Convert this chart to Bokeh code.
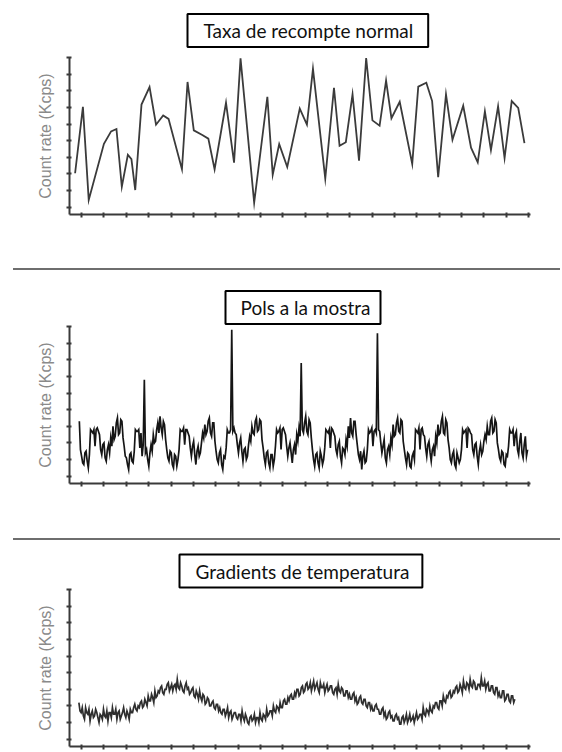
import numpy as np
from bokeh.plotting import figure
from bokeh.models import Range1d, FixedTicker, Div
from bokeh.layouts import column
from bokeh.embed import file_html
from bokeh.resources import INLINE

# ---------------- data ----------------
titles = ["Taxa de recompte normal", "Pols a la mostra", "Gradients de temperatura"]
y_label = "Count rate (Kcps)"
x_ticks = list(range(1, 22))
y_ticks = list(range(1, 11))

# Panel 1: normal count rate
x1 = [0.71, 1.06, 1.32, 2.00, 2.32, 2.56, 2.80, 3.07, 3.23, 3.40,
      3.68, 4.04, 4.33, 4.65, 4.89, 5.49, 5.74, 6.02, 6.40, 6.67,
      6.95, 7.46, 7.82, 8.11, 8.72, 9.31, 9.55, 9.84, 10.20, 10.76,
      11.08, 11.35, 11.90, 12.29, 12.54, 12.82, 13.12, 13.41, 13.73, 14.01,
      14.33, 14.62, 14.86, 15.23, 15.79, 16.06, 16.42, 16.68, 16.95, 17.30,
      17.59, 18.07, 18.42, 18.72, 19.04, 19.31, 19.63, 19.92, 20.24, 20.53,
      20.81]
y1 = [3.04, 7.03, 1.43, 4.81, 5.56, 5.70, 2.23, 4.15, 3.89, 2.03,
      7.17, 8.22, 5.96, 6.51, 6.31, 3.28, 8.53, 5.62, 5.34, 5.12,
      3.28, 7.28, 3.68, 9.95, 1.27, 7.64, 2.95, 4.79, 3.42, 6.93,
      5.97, 9.32, 2.72, 8.18, 4.69, 4.91, 7.78, 3.80, 9.97, 6.22,
      5.90, 8.61, 6.35, 7.34, 3.60, 8.25, 8.48, 7.38, 2.80, 7.78,
      5.06, 7.10, 4.58, 3.70, 6.76, 4.43, 7.06, 3.95, 7.38, 6.97,
      4.85]

# Panel 2: dust in the sample (periodic noise + four spikes)
y2 = [4.3, 2.6, 2.2, 1.8, 1.7, 2.4, 2.5, 1.9, 1.5, 2.3,
      3.8, 3.7, 3.6, 3.8, 2.8, 3.8, 3.9, 3.7, 3.5, 2.6,
      2.3, 2.9, 3.0, 2.1, 1.9, 2.6, 2.9, 2.4, 3.3, 2.8,
      4.0, 3.2, 3.4, 4.2, 4.5, 3.5, 3.6, 4.4, 4.3, 3.3,
      2.8, 2.2, 2.1, 1.7, 1.4, 2.3, 2.4, 1.9, 1.8, 2.5,
      3.8, 3.7, 3.7, 3.8, 2.7, 3.6, 2.2, 2.9, 6.8, 2.4,
      2.6, 2.0, 1.6, 2.4, 2.9, 2.5, 3.5, 3.0, 3.1, 3.8,
      4.2, 3.6, 4.6, 3.9, 3.5, 4.3, 4.1, 3.2, 2.6, 2.1,
      1.9, 2.5, 2.4, 1.7, 1.5, 2.3, 2.2, 1.6, 2.0, 2.6,
      3.8, 3.7, 3.7, 3.9, 2.9, 3.8, 3.8, 3.6, 3.4, 2.7,
      2.2, 2.8, 3.1, 2.3, 1.7, 2.5, 2.8, 2.2, 2.4, 3.0,
      3.6, 3.3, 4.1, 3.5, 3.7, 4.3, 4.5, 3.6, 3.4, 4.2,
      4.2, 3.1, 2.5, 2.0, 1.8, 2.4, 2.6, 1.7, 1.4, 2.2,
      2.1, 2.7, 3.8, 3.6, 3.6, 3.8, 9.8, 3.7, 3.9, 3.6,
      3.5, 2.9, 2.4, 3.0, 3.3, 2.5, 1.9, 2.6, 2.7, 2.0,
      2.2, 2.9, 3.4, 3.1, 4.0, 3.6, 3.5, 4.3, 4.5, 3.7,
      3.8, 4.4, 4.3, 3.2, 2.7, 2.1, 1.7, 2.4, 2.5, 1.8,
      1.5, 2.3, 2.3, 1.6, 2.0, 2.8, 3.8, 3.6, 3.7, 3.9,
      2.6, 3.8, 3.9, 3.7, 3.5, 2.8, 2.2, 2.7, 3.0, 2.4,
      1.8, 2.6, 2.9, 2.3, 3.5, 3.1, 3.9, 3.4, 7.8, 3.8,
      3.6, 4.2, 4.6, 3.7, 3.5, 4.4, 4.2, 3.3, 2.6, 2.0,
      1.6, 2.3, 2.4, 1.8, 1.5, 2.5, 2.2, 1.7, 2.0, 2.7,
      3.8, 3.7, 3.6, 3.8, 2.7, 3.9, 3.8, 3.6, 3.4, 2.6,
      2.3, 2.9, 3.1, 2.2, 1.8, 2.7, 2.6, 2.3, 3.2, 2.8,
      4.0, 3.3, 4.5, 3.6, 3.4, 4.3, 4.3, 3.5, 2.9, 2.3,
      2.0, 2.5, 1.4, 2.2, 2.5, 1.8, 1.9, 2.6, 3.8, 3.6,
      3.7, 3.9, 2.8, 3.7, 3.8, 3.6, 9.6, 3.8, 3.7, 3.0,
      2.4, 2.8, 3.2, 2.1, 1.8, 2.6, 2.8, 2.3, 3.3, 2.9,
      4.1, 3.4, 3.5, 4.2, 4.5, 3.7, 3.6, 4.4, 4.3, 3.1,
      2.6, 2.1, 1.7, 2.4, 2.3, 1.6, 1.5, 2.2, 2.4, 2.0,
      3.8, 3.7, 3.6, 3.9, 2.6, 3.8, 3.9, 3.5, 3.4, 2.7,
      2.2, 2.9, 3.1, 2.4, 1.9, 2.6, 2.8, 2.2, 3.4, 3.0,
      4.1, 3.5, 3.6, 4.3, 4.6, 3.6, 3.5, 4.4, 4.2, 3.2,
      2.7, 2.0, 1.8, 2.3, 2.5, 1.7, 1.5, 2.4, 2.1, 1.8,
      2.0, 2.6, 3.8, 3.6, 3.7, 3.8, 2.7, 3.9, 3.8, 3.6,
      3.5, 2.6, 2.3, 2.9, 3.0, 2.2, 1.7, 2.5, 2.9, 2.3,
      2.5, 3.1, 3.5, 3.2, 4.0, 3.5, 3.5, 4.3, 4.5, 3.6,
      3.7, 4.4, 4.2, 3.0, 2.6, 2.1, 1.9, 2.5, 2.4, 1.7,
      1.6, 2.3, 2.2, 2.8, 3.8, 3.6, 3.6, 3.8, 2.8, 3.5,
      3.7, 2.6, 2.3, 3.1, 3.6, 2.4, 2.1, 2.9, 3.4, 2.2,
      2.6]

# Panel 3: temperature gradients (slow oscillation + noise)
y3 = [3.2, 2.7, 2.6, 2.9, 2.4, 2.2, 2.9, 2.6, 2.5, 2.8,
      2.1, 2.5, 2.7, 2.3, 2.4, 2.8, 2.6, 2.3, 2.0, 2.5,
      2.4, 2.2, 2.8, 2.4, 2.3, 2.7, 2.1, 2.6, 2.6, 2.3,
      2.9, 2.5, 2.5, 2.8, 2.2, 2.6, 2.7, 2.2, 2.4, 2.6,
      2.9, 2.5, 2.3, 2.7, 2.5, 2.2, 2.8, 2.6, 2.6, 2.9,
      3.1, 2.8, 2.7, 3.0, 2.9, 3.2, 3.3, 2.9, 3.0, 3.4,
      3.2, 3.0, 3.6, 3.3, 3.3, 3.7, 3.5, 3.2, 3.9, 3.5,
      3.6, 3.9, 3.8, 4.1, 4.2, 3.8, 3.7, 4.0, 4.0, 4.3,
      4.4, 3.9, 4.1, 4.3, 3.9, 4.2, 4.3, 4.0, 4.6, 4.1,
      4.0, 4.4, 4.2, 3.9, 3.8, 4.2, 4.4, 4.0, 4.1, 3.7,
      3.8, 4.0, 4.1, 3.6, 3.5, 3.9, 3.7, 3.4, 3.9, 3.5,
      3.3, 3.7, 3.6, 3.1, 3.2, 3.5, 3.4, 3.0, 3.0, 3.2,
      3.3, 2.9, 2.8, 3.1, 3.1, 2.7, 2.9, 2.6, 2.5, 2.8,
      2.8, 2.4, 2.6, 2.9, 2.3, 2.6, 2.7, 2.2, 2.4, 2.6,
      2.6, 2.3, 2.2, 2.5, 2.5, 2.1, 2.7, 2.3, 2.1, 2.5,
      2.3, 2.0, 1.9, 2.3, 2.4, 2.1, 2.2, 2.5, 2.0, 2.3,
      2.3, 2.0, 2.6, 2.2, 2.1, 2.5, 2.4, 2.2, 2.8, 2.4,
      2.5, 2.7, 2.7, 2.4, 3.0, 2.7, 2.6, 3.0, 2.9, 2.7,
      3.2, 2.9, 2.9, 3.3, 3.4, 3.1, 3.1, 3.5, 3.3, 3.6,
      3.7, 3.4, 3.4, 3.8, 3.6, 4.0, 4.0, 3.6, 3.7, 4.1,
      4.2, 3.8, 3.9, 4.3, 4.4, 4.0, 4.1, 4.4, 3.9, 4.2,
      4.5, 4.0, 4.2, 4.4, 4.0, 3.8, 4.4, 4.1, 4.1, 4.3,
      3.8, 4.1, 4.3, 3.9, 4.0, 4.2, 4.2, 3.8, 3.7, 4.0,
      4.1, 3.7, 4.3, 3.9, 3.8, 4.1, 4.0, 3.6, 3.6, 3.9,
      3.9, 3.5, 3.7, 3.4, 3.4, 3.7, 3.8, 3.3, 3.5, 3.1,
      3.2, 3.5, 3.6, 3.2, 3.1, 3.4, 3.4, 3.0, 2.9, 3.2,
      3.2, 2.8, 3.0, 2.7, 2.7, 3.0, 3.1, 2.8, 2.8, 2.5,
      2.5, 2.8, 2.9, 2.4, 2.6, 2.2, 2.3, 2.6, 2.7, 2.3,
      2.4, 2.1, 2.1, 2.4, 2.5, 2.2, 2.3, 1.9, 1.9, 2.3,
      2.4, 2.0, 2.2, 2.5, 2.0, 2.2, 2.5, 2.1, 2.2, 2.4,
      2.0, 2.3, 2.6, 2.2, 2.3, 2.5, 2.5, 2.2, 2.9, 2.5,
      2.4, 2.8, 2.7, 2.5, 3.0, 2.7, 2.6, 3.0, 2.9, 3.2,
      3.2, 2.9, 2.8, 3.3, 3.3, 3.0, 3.6, 3.3, 3.2, 3.6,
      3.5, 3.8, 3.9, 3.5, 3.6, 3.9, 3.8, 4.1, 4.2, 3.8,
      3.9, 4.3, 4.1, 3.8, 4.5, 4.1, 4.0, 4.4, 4.3, 4.0,
      4.6, 4.2, 4.1, 4.5, 4.4, 4.0, 4.0, 4.3, 4.3, 4.1,
      4.7, 4.2, 4.2, 4.5, 4.0, 4.3, 4.4, 3.9, 3.9, 4.2,
      4.2, 3.8, 3.7, 4.1, 4.1, 3.6, 3.8, 3.5, 3.5, 3.9,
      3.9, 3.3, 3.4, 3.7, 3.7, 3.3, 3.2, 3.6, 3.6, 3.2,
      3.4]

# sample times of the two dense records (uniform sampling)
x2 = np.linspace(0.90, 20.95, len(y2))
x3 = np.linspace(0.88, 20.38, len(y3))

# ---------------- styling ----------------
W = 560
AXIS = "#3a3a3a"
LABEL_GREY = "#8a8a8a"


def panel(h, top, bottom, x, y, color, lw, title, off, so, pad):
    p = figure(width=W, height=h, title=title,
               x_range=Range1d(0.46, 21.08), y_range=Range1d(0.56, 10.0),
               output_backend="svg", toolbar_location=None,
               min_border_left=69, min_border_right=W - 530,
               min_border_top=top, min_border_bottom=bottom)
    p.outline_line_color = None
    p.grid.visible = False
    p.background_fill_color = "white"
    p.border_fill_color = "white"
    for ax, ticks in ((p.xaxis[0], x_ticks), (p.yaxis[0], y_ticks)):
        ax.ticker = FixedTicker(ticks=[], minor_ticks=ticks)
        ax.axis_line_color = AXIS
        ax.axis_line_width = 2
        ax.major_tick_line_color = None
        ax.minor_tick_line_color = AXIS
        ax.minor_tick_line_width = 2
        ax.minor_tick_in = 2
        ax.minor_tick_out = 3
        ax.major_label_standoff = 0
    p.yaxis[0].axis_label = y_label
    p.yaxis[0].axis_label_text_font = "Liberation Sans"
    p.yaxis[0].axis_label_text_font_size = "16px"
    p.yaxis[0].axis_label_text_font_style = "normal"
    p.yaxis[0].axis_label_text_color = LABEL_GREY
    p.yaxis[0].axis_label_standoff = 13

    p.line(x, y, line_color=color, line_width=lw, line_join="miter")

    t = p.title
    t.text_font = "Lato"
    t.text_font_size = "19px"
    t.text_font_style = "normal"
    t.text_color = "#111111"
    t.align = "left"
    t.vertical_align = "bottom"
    t.offset = off
    t.standoff = so
    t.border_line_color = "black"
    t.border_line_width = 2
    t.background_fill_color = "white"
    t.padding = dict(left=pad[0], right=pad[1], top=pad[2], bottom=pad[3])
    return p


def separator(h, top):
    html = ('<div style="margin:%dpx 0 0 13px;height:2px;width:%dpx;'
            'background:#6e6e6e"></div>' % (top, W - 13))
    return Div(text=html, width=W, height=h, margin=(0, 0, 0, 0))


f1 = panel(258, 57, 44, x1, y1, "#3b3b3b", 1.8, titles[0], 118, 21, (16, 15, 5, 5))
s1 = separator(14, 3)
f2 = panel(256, 54, 45, x2, y2, "#151515", 1.7, titles[1], 156, 5, (15, 10, 5, 5))
s2 = separator(14, 4)
f3 = panel(208, 47, 4, x3, y3, "#2e2e2e", 1.7, titles[2], 110, 4, (16, 13, 5, 5))

layout = column(f1, s1, f2, s2, f3, spacing=0)

with open("out.html", "w") as fh:
    fh.write(file_html(layout, INLINE))
